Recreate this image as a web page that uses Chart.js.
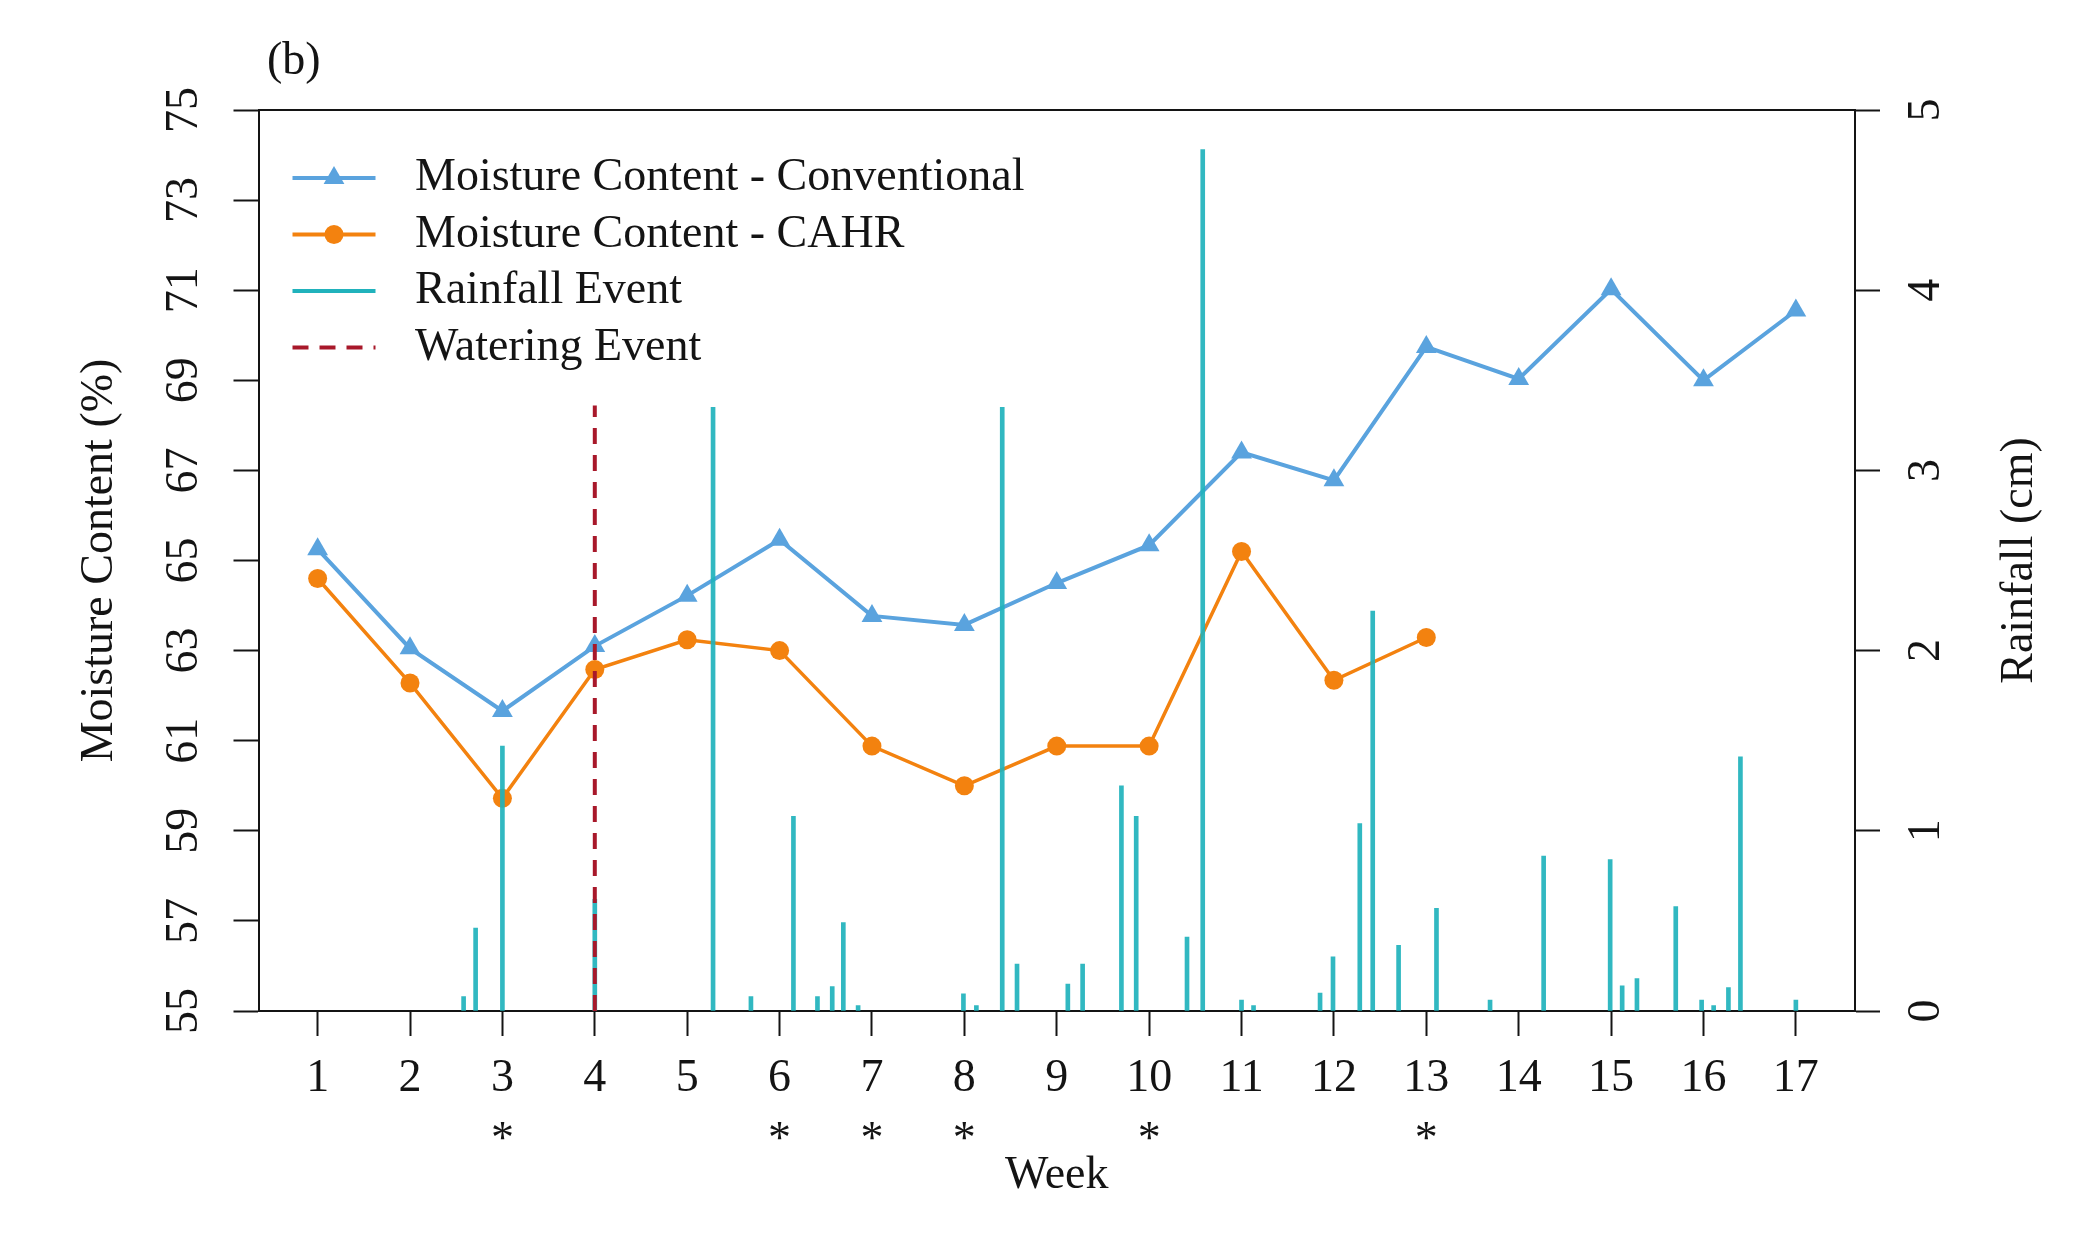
<!DOCTYPE html>
<html>
<head>
<meta charset="utf-8">
<script src="https://cdn.jsdelivr.net/npm/chart.js@4.4.1/dist/chart.umd.min.js"></script>
<style>
  html, body { margin: 0; padding: 0; background: #fff; }
  canvas { display: block; }
</style>
</head>
<body>
<canvas id="humedadChart" width="2100" height="1254"></canvas>
<script>
// datos
const weeks = [1, 2, 3, 4, 5, 6, 7, 8, 9, 10, 11, 12, 13, 14, 15, 16, 17];
const conventional = [65.25, 63.05, 61.66, 63.1, 64.22, 65.46, 63.77, 63.57, 64.5, 65.34, 67.4, 66.78, 69.74, 69.03, 71.02, 69.0, 70.55];
const cahr = [64.6, 62.28, 59.72, 62.58, 63.24, 63.0, 60.88, 60.0, 60.88, 60.88, 65.2, 62.34, 63.29];
const rainWeek = [2.58, 2.71, 3.0, 4.0, 5.28, 5.69, 6.15, 6.41, 6.57, 6.69, 6.85, 7.99, 8.13, 8.41, 8.57,
  9.12, 9.28, 9.7, 9.86, 10.41, 10.58, 11.0, 11.13, 11.85, 11.99, 12.28, 12.42, 12.7, 13.11, 13.69,
  14.27, 14.99, 15.12, 15.28, 15.7, 15.98, 16.11, 16.27, 16.4, 17.0];
const rainCm = [0.08, 0.46, 1.47, 0.62, 3.35, 0.08, 1.08, 0.08, 0.135, 0.49, 0.03, 0.095, 0.03, 3.35, 0.26,
  0.15, 0.26, 1.25, 1.08, 0.41, 4.78, 0.06, 0.03, 0.1, 0.3, 1.04, 2.22, 0.365, 0.57, 0.06,
  0.86, 0.84, 0.14, 0.18, 0.58, 0.06, 0.03, 0.13, 1.41, 0.06];
const wateringWeek = [4, 4];
const wateringCm = [0, 3.36];
const starredWeeks = [3, 6, 7, 8, 10, 13];
const moistureTicks = [55, 57, 59, 61, 63, 65, 67, 69, 71, 73, 75];
const rainTicks = [0, 1, 2, 3, 4, 5];

const BLUE = '#5aa3de';
const ORANGE = '#f3820f';
const TEAL = '#20b2bc';
const RED = '#a8182a';
const INK = '#141414';
const FONT = "'Liberation Serif', 'DejaVu Serif', serif";

Chart.defaults.font.family = FONT;
Chart.defaults.font.size = 46;
Chart.defaults.color = INK;

const ctx = document.getElementById('humedadChart').getContext('2d');

// leyenda, (b) y titulo del eje derecho
const extras = {
  id: 'extras',
  afterDraw(chart) {
    const c = chart.ctx;
    const area = chart.chartArea;
    c.save();
    c.font = '46px ' + FONT;
    c.fillStyle = INK;
    c.textBaseline = 'alphabetic';
    c.fillText('(b)', 267, 74);

    c.save();
    c.translate(2020, (area.top + area.bottom) / 2);
    c.rotate(-Math.PI / 2);
    c.textAlign = 'center';
    c.textBaseline = 'middle';
    c.fillText('Rainfall (cm)', 0, 0);
    c.restore();

    chart.data.datasets.forEach((ds, i) => {
      const y = area.top + 68 + i * 56.5;
      const x0 = area.left + 34;
      c.save();
      c.strokeStyle = ds.legendColor;
      c.lineWidth = 4;
      c.setLineDash(ds.borderDash || []);
      c.beginPath();
      c.moveTo(x0, y);
      c.lineTo(x0 + 83, y);
      c.stroke();
      c.setLineDash([]);
      c.fillStyle = ds.legendColor;
      const cx = x0 + 41.5;
      if (ds.pointStyle === 'triangle') {
        const r = 12;
        c.beginPath();
        c.moveTo(cx, y - r);
        c.lineTo(cx + r * 0.866, y + r / 2);
        c.lineTo(cx - r * 0.866, y + r / 2);
        c.closePath();
        c.fill();
      } else if (ds.pointStyle === 'circle') {
        c.beginPath();
        c.arc(cx, y, 9.5, 0, Math.PI * 2);
        c.fill();
      }
      c.fillStyle = INK;
      c.textBaseline = 'middle';
      c.fillText(ds.label, area.left + 156.5, y);
      c.restore();
    });
    c.restore();
  }
};

const axisGrid = { drawOnChartArea: false, offset: false, tickLength: 25, tickColor: INK, tickWidth: 2 };
const axisBorder = { color: INK, width: 2 };

new Chart(ctx, {
  type: 'line',
  data: {
    datasets: [
      {
        label: 'Moisture Content - Conventional',
        data: weeks.map((w, i) => ({ x: w, y: conventional[i] })),
        borderColor: BLUE,
        backgroundColor: BLUE,
        legendColor: BLUE,
        borderWidth: 4,
        pointStyle: 'triangle',
        pointRadius: 12,
        pointBorderWidth: 0,
        pointBackgroundColor: BLUE,
        yAxisID: 'y',
        order: 3
      },
      {
        label: 'Moisture Content - CAHR',
        data: cahr.map((v, i) => ({ x: weeks[i], y: v })),
        borderColor: ORANGE,
        backgroundColor: ORANGE,
        legendColor: ORANGE,
        borderWidth: 3.5,
        pointStyle: 'circle',
        pointRadius: 9.5,
        pointBorderWidth: 0,
        pointBackgroundColor: ORANGE,
        yAxisID: 'y',
        order: 2
      },
      {
        type: 'bar',
        label: 'Rainfall Event',
        data: rainWeek.map((w, i) => ({ x: w, y: rainCm[i] })),
        backgroundColor: 'rgba(32,178,188,0.92)',
        legendColor: TEAL,
        borderWidth: 0,
        barThickness: 4,
        grouped: false,
        yAxisID: 'y1',
        order: 1
      },
      {
        label: 'Watering Event',
        data: wateringWeek.map((w, i) => ({ x: w, y: wateringCm[i] })),
        borderColor: RED,
        legendColor: RED,
        borderWidth: 4,
        borderDash: [16, 11],
        pointRadius: 0,
        yAxisID: 'y1',
        order: 0
      }
    ]
  },
  options: {
    responsive: false,
    animation: false,
    devicePixelRatio: 1,
    layout: { padding: { top: 110, left: 0, right: 0, bottom: 0 } },
    plugins: {
      legend: { display: false },
      tooltip: { enabled: false }
    },
    elements: { line: { tension: 0 } },
    scales: {
      x: {
        type: 'linear',
        position: 'bottom',
        min: 0.36,
        max: 17.64,
        offset: false,
        grid: axisGrid,
        border: axisBorder,
        afterBuildTicks: s => { s.ticks = weeks.map(v => ({ value: v })); },
        afterFit: s => { s.height = 243; },
        ticks: {
          autoSkip: false,
          maxRotation: 0,
          padding: 12,
          font: { size: 46, lineHeight: 1.35 },
          callback: v => starredWeeks.includes(v) ? [String(v), '*'] : String(v)
        },
        title: { display: true, text: 'Week', font: { size: 46 }, padding: { top: 0, bottom: 50 } }
      },
      xTop: {
        type: 'linear',
        position: 'top',
        min: 0.36,
        max: 17.64,
        offset: false,
        grid: { drawOnChartArea: false, drawTicks: false, offset: false },
        border: axisBorder,
        ticks: { display: false },
        afterBuildTicks: s => { s.ticks = []; },
        afterFit: s => { s.height = 0; }
      },
      y: {
        position: 'left',
        min: 55,
        max: 75,
        grid: axisGrid,
        border: axisBorder,
        afterBuildTicks: s => { s.ticks = moistureTicks.map(v => ({ value: v })); },
        afterFit: s => { s.width = 258.5; },
        ticks: { minRotation: 90, maxRotation: 90, crossAlign: 'center', padding: 25.5, font: { size: 46 } },
        title: { display: true, text: 'Moisture Content (%)', font: { size: 46 }, padding: { top: 72, bottom: 0 } }
      },
      y1: {
        position: 'right',
        min: 0,
        max: 5,
        grid: axisGrid,
        border: axisBorder,
        afterBuildTicks: s => { s.ticks = rainTicks.map(v => ({ value: v })); },
        afterFit: s => { s.width = 245; },
        ticks: { minRotation: 90, maxRotation: 90, crossAlign: 'center', padding: 35.5, font: { size: 46 } }
      }
    }
  },
  plugins: [extras]
});
</script>
</body>
</html>
